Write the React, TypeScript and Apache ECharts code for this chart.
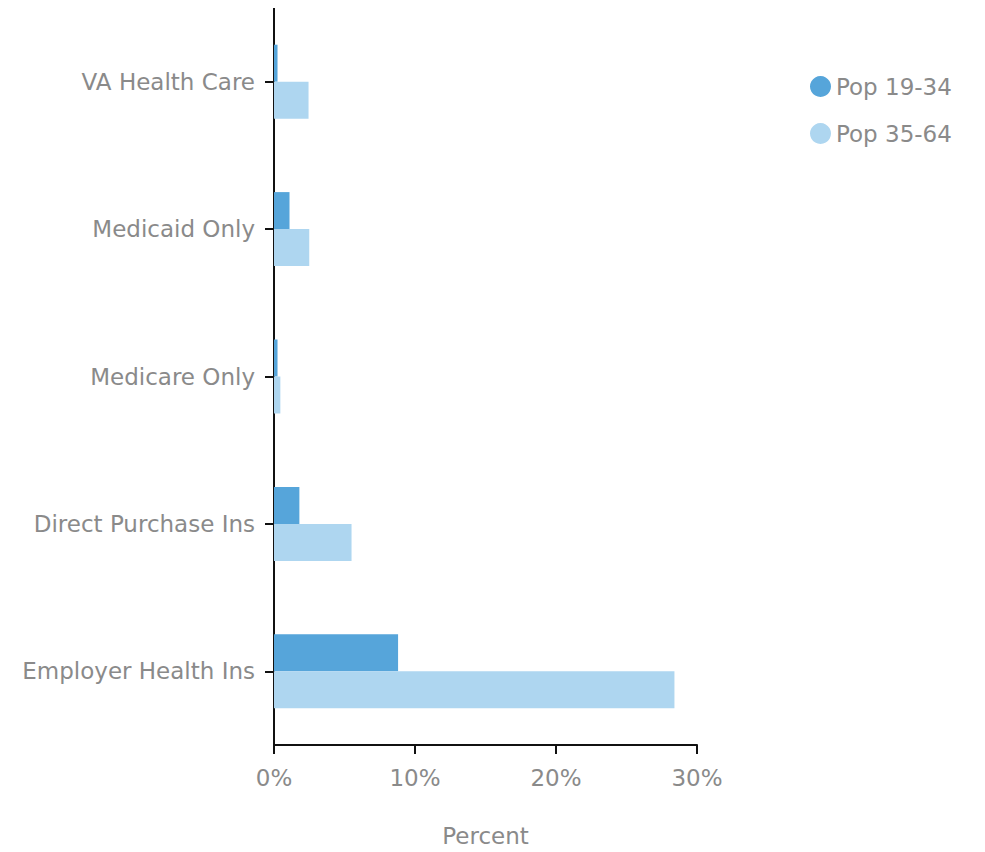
import React, { useEffect, useRef } from "react";
import * as echarts from "echarts";

const categories = ["Employer Health Ins", "Direct Purchase Ins", "Medicare Only", "Medicaid Only", "VA Health Care"];
const pop1934 = [8.8, 1.8, 0.25, 1.1, 0.25];
const pop3564 = [28.4, 5.5, 0.45, 2.5, 2.45];
const seriesNames = ["Pop 19-34", "Pop 35-64"];
const colors = ["#56a5da", "#aed6f0"];

export default function App() {
  const ref = useRef<HTMLDivElement>(null);
  useEffect(() => {
    const chart = echarts.init(ref.current!, null, { renderer: "svg" });
    const font = "'DejaVu Sans', 'Open Sans', sans-serif";
    const txt = { color: "#8a8a8a", fontSize: 23, fontFamily: font, fontWeight: "normal" };
    chart.setOption({
      animation: false,
      textStyle: { fontFamily: font },
      legend: {
        orient: "vertical",
        left: 797,
        top: 62,
        icon: "circle",
        itemWidth: 21,
        itemHeight: 21,
        itemGap: 24,
        textStyle: txt,
        data: seriesNames,
      },
      grid: { left: 266, top: 0, right: 288, bottom: 104, containLabel: false },
      xAxis: {
        type: "value",
        min: 0,
        max: 30,
        interval: 10,
        name: "Percent",
        nameLocation: "middle",
        nameGap: 79,
        nameTextStyle: txt,
        axisLine: { show: true, lineStyle: { color: "#111", width: 2 } },
        axisTick: { show: true, length: 9, lineStyle: { color: "#111", width: 2 } },
        axisLabel: { ...txt, margin: 21, formatter: "{value}%" },
        splitLine: { show: false },
      },
      yAxis: {
        type: "category",
        data: categories,
        axisLine: { show: true, lineStyle: { color: "#111", width: 2 } },
        axisTick: { show: true, alignWithLabel: true, length: 9, lineStyle: { color: "#111", width: 2 } },
        axisLabel: { ...txt, margin: 19, padding: [4, 0, 0, 0] },
      },
      series: [
        {
          name: seriesNames[0],
          type: "bar",
          data: pop1934,
          itemStyle: { color: colors[0] },
          barWidth: 37,
          barGap: "0%",
        },
        {
          name: seriesNames[1],
          type: "bar",
          data: pop3564,
          itemStyle: { color: colors[1] },
          barWidth: 37,
          barGap: "0%",
        },
      ],
    });
    return () => chart.dispose();
  }, []);
  return <div ref={ref} style={{ width: 977, height: 844 }} />;
}
